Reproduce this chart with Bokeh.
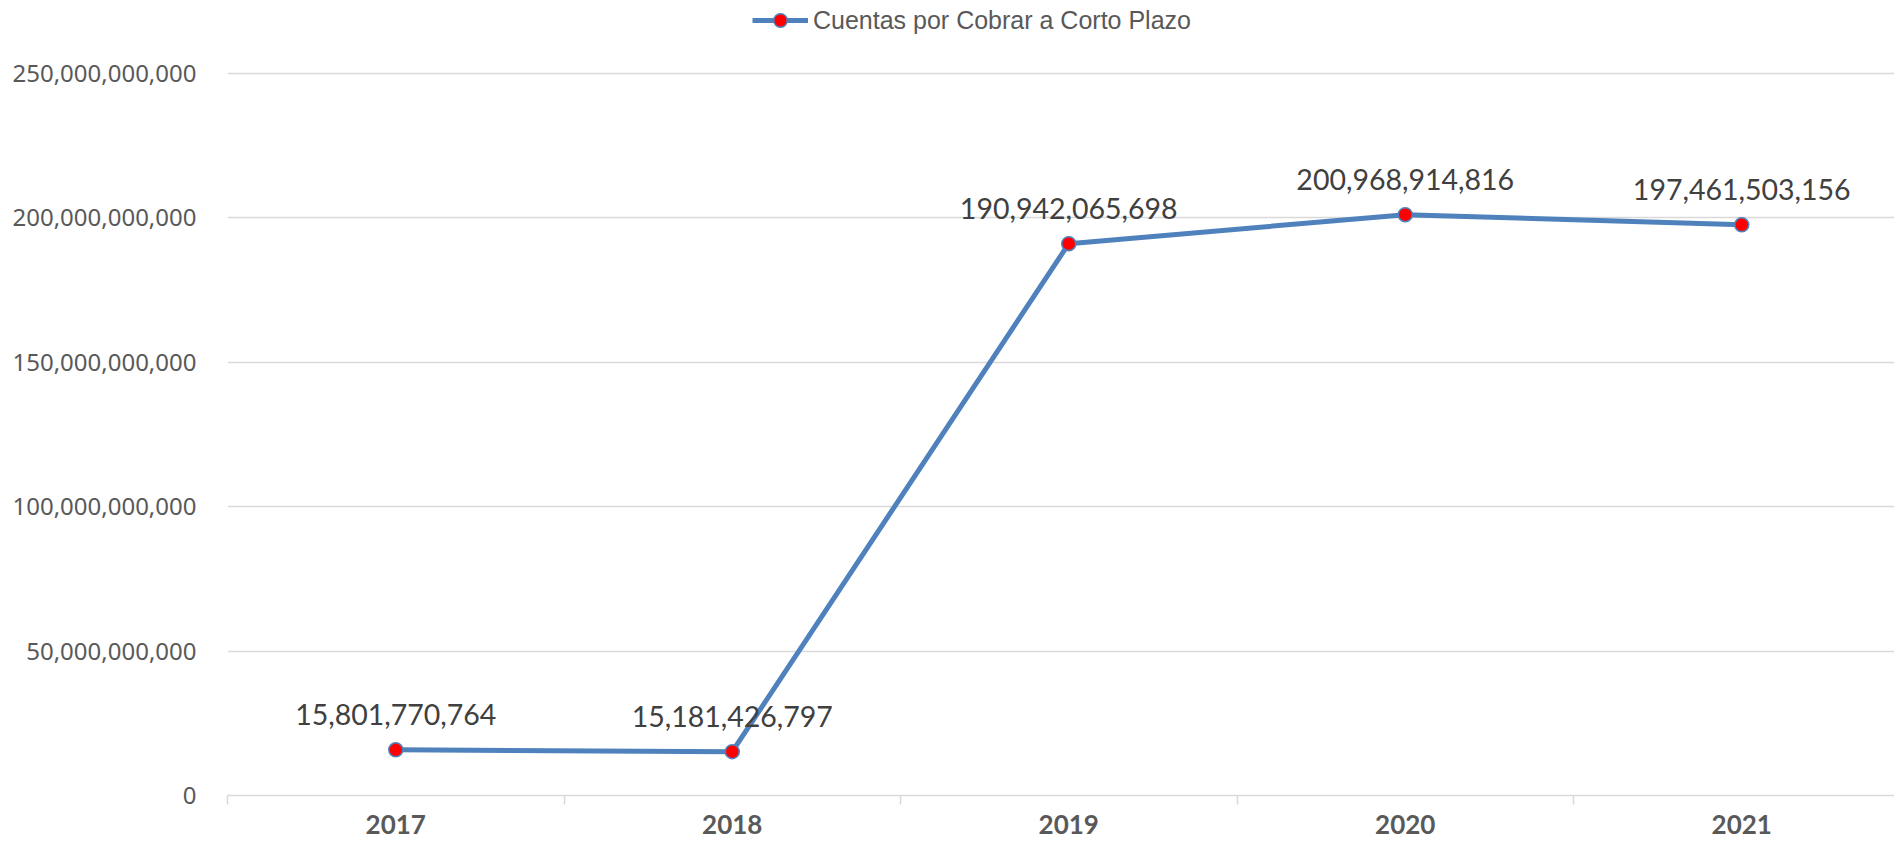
from bokeh.plotting import figure
from bokeh.models import (Range1d, FixedTicker, NumeralTickFormatter, Legend,
                          LegendItem, ColumnDataSource)
from bokeh.core.properties import value
from bokeh.embed import file_html
from bokeh.resources import INLINE

# ---- data ----
years = ["2017", "2018", "2019", "2020", "2021"]
cuentas = [15801770764, 15181426797, 190942065698, 200968914816, 197461503156]
series_name = "Cuentas por Cobrar a Corto Plazo"
y_ticks = [0, 50e9, 100e9, 150e9, 200e9, 250e9]

# ---- layout ----
W, H = 1894, 841
LEFT = 227
BOTTOM = 46
frame_h = H - BOTTOM
cat_px = 336.5
x_end = -0.5 + (W - LEFT) / cat_px
top_px = 72.5
y_end = 250e9 * frame_h / (frame_h - top_px)

x = list(range(len(years)))
source = ColumnDataSource(dict(x=x, y=cuentas,
                               label=[f"{v:,}" for v in cuentas]))

p = figure(width=W, height=H, x_range=Range1d(-0.5, x_end),
           y_range=Range1d(0, y_end), output_backend="svg",
           toolbar_location=None, min_border_left=LEFT, min_border_right=0,
           min_border_top=0, min_border_bottom=BOTTOM)
p.outline_line_color = None
p.background_fill_color = "white"

# x axis
xa = p.xaxis[0]
xa.ticker = FixedTicker(ticks=x, minor_ticks=[i - 0.5 for i in range(len(years) + 1)])
xa.major_label_overrides = {i: yr for i, yr in enumerate(years)}
xa.axis_line_color = "#d9d9d9"
xa.axis_line_width = 1.5
xa.major_tick_out = 0
xa.major_tick_in = 0
xa.major_tick_line_color = None
xa.minor_tick_out = 9
xa.minor_tick_in = 0
xa.minor_tick_line_color = "#d9d9d9"
xa.minor_tick_line_width = 1.5
xa.major_label_standoff = 10
xa.major_label_text_font = "Lato"
xa.major_label_text_font_style = "bold"
xa.major_label_text_font_size = "26px"
xa.major_label_text_color = "#595959"
p.xgrid.visible = False

# y axis
ya = p.yaxis[0]
ya.ticker = FixedTicker(ticks=y_ticks)
ya.formatter = NumeralTickFormatter(format="0,0")
ya.axis_line_color = None
ya.major_tick_line_color = None
ya.minor_tick_line_color = None
ya.major_tick_out = 0
ya.major_tick_in = 0
ya.major_label_standoff = 31
ya.major_label_text_font = "Noto Sans"
ya.major_label_text_font_size = "24px"
ya.major_label_text_color = "#595959"
p.ygrid.grid_line_color = "#d9d9d9"
p.ygrid.grid_line_width = 1.5

# series
r_line = p.line(x="x", y="y", source=source, line_color="#4f81bd", line_width=5)
r_pts = p.scatter(x="x", y="y", source=source, size=14, fill_color="red",
                  line_color="#4f81bd", line_width=1.5)
p.text(x="x", y="y", text="label", source=source, text_font=value("Lato"),
       text_font_size="28.5px", text_color="#404040", text_align="center",
       text_baseline="alphabetic", y_offset=-35)

legend = Legend(items=[LegendItem(label=series_name, renderers=[r_line, r_pts])],
                location=(525, frame_h - 37), orientation="horizontal",
                padding=0, margin=0, spacing=0, border_line_color=None,
                background_fill_alpha=0, glyph_width=56, glyph_height=34,
                label_standoff=5, label_text_font="Liberation Sans",
                label_text_font_size="25px", label_text_color="#595959")
p.add_layout(legend)

open("out.html", "w").write(file_html(p, INLINE))
